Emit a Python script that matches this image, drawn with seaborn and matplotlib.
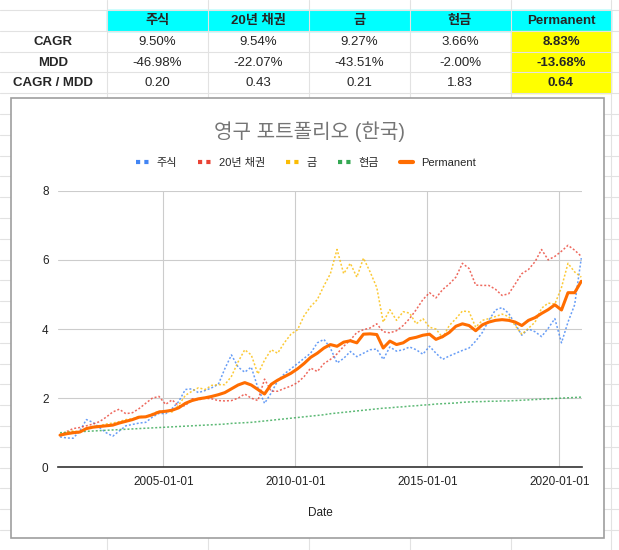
import numpy as np
import pandas as pd
import matplotlib
matplotlib.use('Agg')
import matplotlib.pyplot as plt
import matplotlib.dates as mdates
from matplotlib.lines import Line2D
from matplotlib.patches import Rectangle
import seaborn as sns

# ---- table values ----
assets = ['주식', '20년 채권', '금', '현금', 'Permanent']
row_names = ['CAGR', 'MDD', 'CAGR / MDD']
cagr = ['9.50%', '9.54%', '9.27%', '3.66%', '8.83%']
mdd = ['-46.98%', '-22.07%', '-43.51%', '-2.00%', '-13.68%']
ratio = ['0.20', '0.43', '0.21', '1.83', '0.64']

# ---- chart values (quarterly) ----
dates = pd.date_range('2001-02-01', periods=80, freq='3MS')

stock = [0.88, 0.85, 0.84, 1.05, 1.38, 1.30, 1.15, 1.00, 0.90, 1.05, 1.20, 1.24,
         1.28, 1.30, 1.45, 1.56, 1.55, 1.70, 1.90, 2.25, 2.27, 2.16, 2.22, 2.30,
         2.40, 2.85, 3.25, 2.90, 2.75, 2.90, 2.30, 1.85, 2.15, 2.50, 2.70, 2.85,
         3.00, 3.15, 3.30, 3.60, 3.70, 3.45, 3.02, 3.15, 3.35, 3.20, 3.30, 3.40,
         3.42, 3.12, 3.48, 3.36, 3.40, 3.48, 3.40, 3.27, 3.50, 3.30, 3.12, 3.22,
         3.30, 3.38, 3.45, 3.65, 3.90, 4.25, 4.55, 4.62, 4.45, 4.15, 3.82, 4.00,
         3.92, 3.78, 4.02, 4.30, 3.60, 4.20, 4.70, 6.05]

bond = [0.92, 1.03, 1.12, 1.15, 1.20, 1.25, 1.32, 1.45, 1.60, 1.68, 1.55, 1.58,
        1.70, 1.85, 2.00, 2.05, 1.82, 1.95, 1.78, 1.78, 1.98, 1.95, 2.00, 1.98,
        1.93, 1.92, 1.93, 2.00, 2.12, 2.00, 1.93, 2.55, 2.20, 2.20, 2.28, 2.35,
        2.45, 2.62, 2.87, 2.77, 3.00, 3.12, 3.28, 3.50, 3.68, 3.90, 3.98, 4.03,
        4.15, 3.92, 3.89, 3.95, 4.10, 4.30, 4.56, 4.85, 5.05, 4.90, 5.14, 5.30,
        5.50, 5.90, 5.75, 5.27, 5.26, 5.26, 5.15, 4.97, 5.02, 5.30, 5.60, 5.72,
        5.95, 6.30, 6.00, 6.10, 6.25, 6.42, 6.28, 6.10]

gold = [0.95, 1.02, 1.05, 1.03, 1.12, 1.18, 1.20, 1.25, 1.28, 1.32, 1.38, 1.40,
        1.48, 1.45, 1.55, 1.62, 1.62, 1.60, 1.80, 2.08, 2.20, 2.30, 2.25, 2.37,
        2.39, 2.39, 2.63, 3.05, 3.40, 3.25, 2.70, 3.10, 3.40, 3.30, 3.60, 3.85,
        3.98, 4.38, 4.65, 4.85, 5.25, 5.60, 6.30, 5.60, 5.90, 5.50, 6.05, 5.65,
        5.20, 4.20, 4.56, 4.25, 4.50, 4.46, 4.15, 4.30, 4.05, 4.00, 3.75, 4.10,
        4.30, 4.52, 4.50, 4.05, 4.25, 4.30, 4.36, 4.43, 4.36, 4.10, 3.85, 4.02,
        4.20, 4.60, 4.75, 4.72, 5.20, 5.90, 5.65, 5.50]

cash = [1.00, 1.01, 1.02, 1.03, 1.04, 1.05, 1.06, 1.07, 1.08, 1.09, 1.10, 1.11,
        1.12, 1.13, 1.14, 1.15, 1.16, 1.17, 1.18, 1.19, 1.20, 1.21, 1.22, 1.23,
        1.24, 1.25, 1.27, 1.28, 1.29, 1.30, 1.32, 1.34, 1.36, 1.38, 1.40, 1.42,
        1.44, 1.46, 1.48, 1.50, 1.52, 1.55, 1.57, 1.59, 1.61, 1.63, 1.65, 1.67,
        1.69, 1.71, 1.72, 1.74, 1.75, 1.77, 1.78, 1.80, 1.81, 1.83, 1.84, 1.85,
        1.86, 1.88, 1.89, 1.90, 1.90, 1.91, 1.91, 1.92, 1.92, 1.93, 1.94, 1.95,
        1.96, 1.97, 1.98, 1.99, 2.00, 2.01, 2.02, 2.03]

permanent = [0.93, 0.97, 1.00, 1.02, 1.12, 1.16, 1.18, 1.20, 1.22, 1.28, 1.33, 1.38,
             1.45, 1.46, 1.52, 1.60, 1.62, 1.65, 1.72, 1.85, 1.93, 1.98, 2.01, 2.05,
             2.10, 2.16, 2.27, 2.38, 2.45, 2.38, 2.25, 2.12, 2.40, 2.52, 2.62, 2.72,
             2.85, 3.00, 3.18, 3.30, 3.45, 3.55, 3.50, 3.62, 3.66, 3.60, 3.85, 3.86,
             3.84, 3.45, 3.65, 3.55, 3.60, 3.72, 3.76, 3.82, 3.85, 3.70, 3.78, 3.90,
             4.08, 4.15, 4.10, 3.95, 4.12, 4.20, 4.25, 4.27, 4.25, 4.20, 4.10, 4.25,
             4.33, 4.45, 4.56, 4.70, 4.55, 5.05, 5.05, 5.38]

colors = ['#4285f4', '#ea4335', '#fbbc04', '#34a853', '#ff6d01']

df = pd.DataFrame({'Date': dates, '주식': stock, '20년 채권': bond, '금': gold,
                   '현금': cash, 'Permanent': permanent})

sns.set_theme(style='white')
plt.rcParams['font.family'] = ['Liberation Sans', 'Noto Sans CJK KR', 'DejaVu Sans']

W, H = 619, 550
fig = plt.figure(figsize=(W / 100, H / 100), dpi=100)

# spreadsheet background
bg = fig.add_axes([0, 0, 1, 1])
bg.set_xlim(0, W)
bg.set_ylim(H, 0)
bg.axis('off')

grid_c = '#e2e2e2'
col_x = [107, 208, 309, 410, 510.5, 611]
row_y = 10 + 20.8 * np.arange(27)
bg.add_patch(Rectangle((107, 10), 504, 21, color='#00ffff', zorder=1))
bg.add_patch(Rectangle((510.5, 31), 100.5, 62.3, color='#ffff00', zorder=1))
for y in row_y:
    bg.plot([0, W], [y, y], color=grid_c, lw=0.8, zorder=2)
for x in col_x:
    bg.plot([x, x], [0, H], color=grid_c, lw=0.8, zorder=2)

centers = [53, 157.5, 258.5, 359.5, 460, 561]
for cx, name in zip(centers[1:], assets):
    bg.text(cx, 21, name, ha='center', va='center', fontsize=9.5,
            fontweight='bold', zorder=3)
for ry, rname, vals in zip([42, 63, 83.5], row_names, [cagr, mdd, ratio]):
    bg.text(centers[0], ry, rname, ha='center', va='center', fontsize=9.5,
            fontweight='bold', zorder=3)
    for i, (cx, v) in enumerate(zip(centers[1:], vals)):
        bg.text(cx, ry, v, ha='center', va='center', fontsize=9.5,
                fontweight='bold' if i == 4 else 'normal', zorder=3)

# chart box
bg.add_patch(Rectangle((11, 98), 593, 440, facecolor='white',
                       edgecolor='#9e9e9e', lw=1.2, zorder=4))

# chart axes
left, right, top, bottom = 58.3, 582.3, 190.7, 467.3
ax = fig.add_axes([left / W, 1 - bottom / H, (right - left) / W, (bottom - top) / H])
ax.set_facecolor('none')

for name, c in zip(['주식', '20년 채권', '금', '현금'], colors[:4]):
    sns.lineplot(data=df, x='Date', y=name, ax=ax, color=c, lw=1.1,
                 linestyle=(0, (1.3, 1.3)), alpha=0.8)
sns.lineplot(data=df, x='Date', y='Permanent', ax=ax, color=colors[4], lw=2.2)

ax.set_ylim(0, 8)
ax.set_yticks([0, 2, 4, 6, 8])
ax.set_xlim(pd.Timestamp('2001-01-08'), pd.Timestamp('2020-11-15'))
ax.set_xticks(pd.to_datetime(['2005-01-01', '2010-01-01', '2015-01-01', '2020-01-01']))
ax.xaxis.set_major_formatter(mdates.DateFormatter('%Y-%m-%d'))
ax.grid(True, color='#cccccc', lw=0.8)
ax.set_axisbelow(True)
for s in ['top', 'right', 'left']:
    ax.spines[s].set_visible(False)
ax.spines['bottom'].set_color('#333333')
ax.spines['bottom'].set_linewidth(1.2)
ax.tick_params(axis='both', length=0, labelsize=8.5, colors='#222222')
ax.tick_params(axis='y', pad=7)
ax.tick_params(axis='x', pad=6)
ax.set_xlabel('Date', fontsize=8.5, color='#222222', labelpad=14)
ax.set_ylabel('')

fig.text(309 / W, 1 - 131.5 / H, '영구 포트폴리오 (한국)', ha='center', va='center',
         fontsize=14.5, color='#757575')

handles = [Line2D([0], [0], color=c, lw=3, linestyle=(0, (1, 1))) for c in colors[:4]]
handles.append(Line2D([0], [0], color=colors[4], lw=3))
fig.legend(handles, assets, loc='center', bbox_to_anchor=(306 / W, 1 - 163 / H),
           ncol=5, frameon=False, fontsize=8, handlelength=1.15,
           handletextpad=0.7, columnspacing=1.9)

fig.savefig('out.png', dpi=100)
